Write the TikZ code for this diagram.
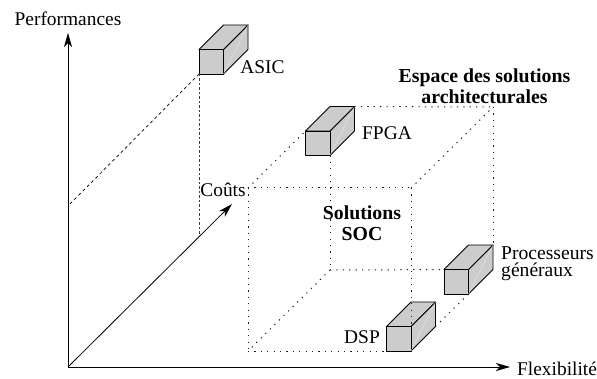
\documentclass[tikz,border=0pt]{standalone}
\usepackage{fontspec}
\setmainfont{Liberation Serif}
\usetikzlibrary{arrows.meta}
\tikzset{
	axe/.style={line width=0.8pt,-{Stealth[length=14pt,width=8pt,inset=4pt]}},
	tirets/.style={line width=0.7pt,dash pattern=on 3pt off 3pt},
	points/.style={line width=1pt,dash pattern=on 1.2pt off 5.2pt,black!90},
	face/.style={draw,line width=0.9pt,fill=black!20,line join=round},
	txt/.style={inner sep=0pt,font=\fontsize{19.4}{21}\selectfont},
	txtgras/.style={txt,font=\fontsize{19.8}{21}\selectfont\bfseries}
}
% #1 = nom, (#2,#3) = coin bas gauche de la face avant
\newcommand{\boite}[3]{
	\coordinate (#1a) at (#2,#3);
	\coordinate (#1b) at (#2+24.5,#3);
	\coordinate (#1c) at (#2+24.5,#3-24.5);
	\coordinate (#1d) at (#2,#3-24.5);
	\coordinate (#1e) at (#2+49,#3-49);
	\coordinate (#1f) at (#2+24.5,#3-49);
	\coordinate (#1g) at (#2+49,#3-24.5);
	\draw [face] (#1b)--(#1g)--(#1e)--(#1c)--cycle;
	\draw [face] (#1d)--(#1c)--(#1e)--(#1f)--cycle;
	\draw [face] (#1a)--(#1b)--(#1c)--(#1d)--cycle;
	\draw [black!8,line width=0.3pt] (#1b)--(#1e);
}
\begin{document}
\begin{tikzpicture}[x=1pt,y=-1pt]
	\useasboundingbox (0,0) rectangle (597,379);
	%Axes
	\coordinate (origine) at (68,367);
	\coordinate (hautperf) at (68,33);
	\coordinate (finflex) at (510,367);
	\coordinate (fincout) at (232,204);
	\draw [axe] (origine)--(hautperf);
	\draw [axe] (origine)--(finflex);
	\draw [axe] (origine)--(fincout);
	%Boites
	\boite{asic}{199}{74}
	\boite{fpga}{305.5}{155.5}
	\boite{proc}{444}{294}
	\boite{dsp}{386.5}{351}
	%ASIC
	\coordinate (perfasic) at (68,206);
	\coordinate (coutasic) at (199,234);
	\draw [tirets] (asica)--(perfasic);
	\draw [tirets,dash pattern=on 2.5pt off 2pt,black!75] (asica)--(coutasic);
	%Espace
	\coordinate (avhg) at (248,188);
	\coordinate (avhd) at (411,188);
	\coordinate (avbg) at (248,351);
	\coordinate (arhd) at (493,107);
	\coordinate (arbg) at (330,270);
	\draw [points] (avhg)--(fpgad);
	\draw [points] (fpgae)--(arhd);
	\draw [points] (avhg)--(avhd);
	\draw [points] (avhd)--(arhd);
	\draw [points] (avhg)--(avbg);
	\draw [points] (avhd)--(dspc);
	\draw [points] (arhd)--(proce);
	\draw [points] (fpgab)--(arbg);
	\draw [points] (arbg)--(procc);
	\draw [points] (arbg)--(avbg);
	\draw [points] (avbg)--(dspa);
	\draw [points] (dspg)--(procb);
	%Textes
	\node [txt] (perf) at (68,19) {Performances};
	\node [txt,anchor=west] (flex) at (517,369) {Flexibilité};
	\node [txt] (cout) at (223,190) {Coûts};
	\node [txt] (asicnom) at (262.5,67) {ASIC};
	\node [txt] (fpganom) at (387,133) {FPGA};
	\node [txt] (dspnom) at (362,337) {DSP};
	\node [txt,anchor=west,align=left,font=\fontsize{19.6}{17}\selectfont] (procnom) at (501,264) {Processeurs\\généraux};
	\node [txtgras,align=center] (espnom) at (484.5,86.5) {Espace des solutions\\architecturales};
	\node [txtgras,align=center] (solnom) at (362,223) {Solutions\\SOC};
\end{tikzpicture}
\end{document}
